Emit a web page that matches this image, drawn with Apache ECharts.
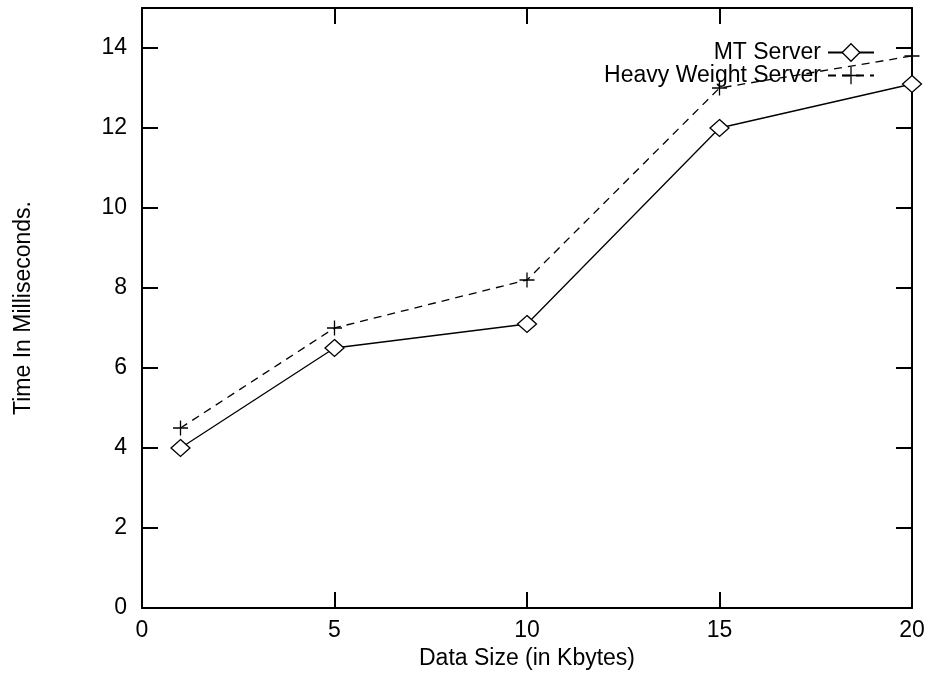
<!DOCTYPE html>
<html>
<head>
<meta charset="utf-8">
<script src="https://cdn.jsdelivr.net/npm/echarts@6/dist/echarts.min.js"></script>
<style>
  html, body { margin: 0; padding: 0; background: #fff; }
  #chart { width: 930px; height: 675px; }
</style>
</head>
<body>
<div id="chart"></div>
<script>
const dataSizes = [1, 5, 10, 15, 20]
const mtServer = [4.0, 6.5, 7.1, 12.0, 13.1]
const heavyServer = [4.5, 7.0, 8.2, 13.0, 13.8]
const xTicks = [0, 5, 10, 15, 20]
const yTicks = [0, 2, 4, 6, 8, 10, 12, 14]

const font = 'Liberation Sans, Arial, sans-serif'
const fs = 23
const plusPath = 'path://M0,5L10,5M5,0L5,10'

const chart = echarts.init(document.getElementById('chart'))

const tickInside = { show: true, inside: true, length: 16, lineStyle: { color: '#000', width: 2 } }
const frameLine = { show: true, onZero: false, lineStyle: { color: '#000', width: 2 } }

chart.setOption({
    animation: false,
    grid: { left: 142, right: 18, top: 8, bottom: 67 },
    legend: {
        orient: 'vertical',
        right: 50,
        top: 36,
        align: 'right',
        itemWidth: 46,
        itemHeight: 22,
        itemGap: 0,
        itemStyle: { color: '#fff', borderColor: '#000', borderWidth: 1.3 },
        textStyle: { fontFamily: font, fontSize: fs, lineHeight: 22, color: '#000', padding: [0, 2, 0, 0] },
        data: ['MT Server', 'Heavy Weight Server']
    },
    xAxis: [
        {
            type: 'value',
            min: xTicks[0],
            max: xTicks[xTicks.length - 1],
            interval: 5,
            name: 'Data Size (in Kbytes)',
            nameLocation: 'middle',
            nameGap: 36,
            nameTextStyle: { fontFamily: font, fontSize: fs, color: '#000' },
            axisLine: frameLine,
            axisTick: tickInside,
            axisLabel: { fontFamily: font, fontSize: fs, color: '#000', margin: 11 },
            splitLine: { show: false }
        },
        {
            type: 'value',
            position: 'top',
            min: xTicks[0],
            max: xTicks[xTicks.length - 1],
            interval: 5,
            axisLine: frameLine,
            axisTick: tickInside,
            axisLabel: { show: false },
            splitLine: { show: false }
        }
    ],
    yAxis: [
        {
            type: 'value',
            min: 0,
            max: 15,
            interval: 2,
            name: 'Time In Milliseconds.',
            nameLocation: 'middle',
            nameGap: 107,
            nameTextStyle: { fontFamily: font, fontSize: fs, color: '#000' },
            axisLine: frameLine,
            axisTick: tickInside,
            axisLabel: {
                fontFamily: font, fontSize: fs, color: '#000', margin: 15,
                showMaxLabel: false,
                formatter: v => (yTicks.includes(v) ? String(v) : '')
            },
            splitLine: { show: false }
        },
        {
            type: 'value',
            position: 'right',
            min: 0,
            max: 15,
            interval: 2,
            axisLine: frameLine,
            axisTick: tickInside,
            axisLabel: { show: false },
            splitLine: { show: false }
        }
    ],
    series: [
        {
            name: 'MT Server',
            type: 'line',
            data: dataSizes.map((x, i) => [x, mtServer[i]]),
            symbol: 'diamond',
            symbolSize: [19, 17],
            itemStyle: { color: '#fff', borderColor: '#000', borderWidth: 1.3 },
            lineStyle: { color: '#000', width: 1.3 }
        },
        {
            name: 'Heavy Weight Server',
            type: 'line',
            data: dataSizes.map((x, i) => [x, heavyServer[i]]),
            symbol: plusPath,
            symbolSize: 15,
            itemStyle: { color: '#000', borderColor: '#000', borderWidth: 1.3 },
            lineStyle: { color: '#000', width: 1.3, type: [8, 6] }
        }
    ]
})
</script>
</body>
</html>
